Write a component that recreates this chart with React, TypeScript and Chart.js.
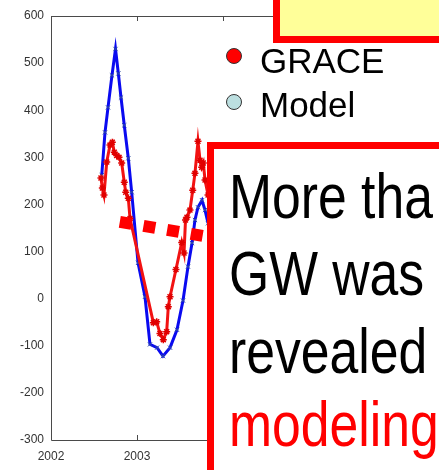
import React, { useEffect, useRef } from "react";
import { Chart, registerables } from "chart.js";

Chart.register(...registerables);

// ---- data ----
const graceYears = [
  2002.581, 2002.597, 2002.616, 2002.648, 2002.686, 2002.713, 2002.736, 2002.764,
  2002.791, 2002.822, 2002.852, 2002.869, 2002.899, 2002.919, 2003.19, 2003.229,
  2003.267, 2003.306, 2003.345, 2003.364, 2003.384, 2003.453, 2003.52, 2003.547,
  2003.564, 2003.581, 2003.616, 2003.648, 2003.674, 2003.709, 2003.733, 2003.752,
  2003.771, 2003.791, 2003.826,
];
const graceValues = [
  256, 235, 220, 290, 326, 332, 311, 304,
  300, 288, 247, 226, 213, 170, -51, -49,
  -74, -87, -70, -17, 4, 62, 119, 97,
  167, 173, 188, 230, 266, 334, 294, 279,
  288, 252, 220,
];
const modelYears = [
  2002.59, 2002.628, 2002.663, 2002.709, 2002.75, 2002.783, 2002.814, 2002.852,
  2002.899, 2002.938, 2003.012, 2003.093, 2003.151, 2003.233, 2003.302, 2003.384,
  2003.465, 2003.535, 2003.593, 2003.64, 2003.674, 2003.709, 2003.756, 2003.791,
  2003.826,
];
const modelValues = [
  262, 353, 406, 474, 530, 478, 427, 368,
  298, 226, 76, 4, -97, -104, -122, -104,
  -66, -4, 68, 118, 167, 194, 209, 188,
  160,
];
const yTickValues = [-300, -200, -100, 0, 100, 200, 300, 400, 500, 600];
const xTickYears = [2002, 2003, 2004, 2005, 2006];
const seriesNames = ["GRACE", "Model"];
const calloutLines = ["More tha", "GW was", "revealed", "modeling"];
// dashed pointer annotation, in data units [year, value]
const pointerFrom = [2002.8, 163];
const pointerTo = [2003.767, 133];

const framePlugin = {
  id: "frame",
  afterDatasetsDraw(chart: any) {
    const { ctx, chartArea, scales } = chart;
    const { left, right, top, bottom } = chartArea;
    ctx.save();
    ctx.strokeStyle = "#4a4a4a";
    ctx.lineWidth = 1;
    ctx.beginPath();
    ctx.moveTo(left + 0.5, top + 0.5);
    ctx.lineTo(right, top + 0.5);
    ctx.moveTo(left + 0.5, top);
    ctx.lineTo(left + 0.5, bottom + 0.5);
    ctx.lineTo(right, bottom + 0.5);
    // inner ticks on the year positions
    xTickYears.forEach((yr) => {
      const px = Math.round(scales.x.getPixelForValue(yr)) + 0.5;
      if (px <= left + 1) return;
      ctx.moveTo(px, top);
      ctx.lineTo(px, top + 5);
      ctx.moveTo(px, bottom);
      ctx.lineTo(px, bottom - 5);
    });
    ctx.stroke();

    // thick dashed red pointer
    ctx.strokeStyle = "#FF0000";
    ctx.lineWidth = 12;
    ctx.lineCap = "butt";
    ctx.setLineDash([12, 12]);
    ctx.beginPath();
    ctx.moveTo(scales.x.getPixelForValue(pointerFrom[0]), scales.y.getPixelForValue(pointerFrom[1]));
    ctx.lineTo(scales.x.getPixelForValue(pointerTo[0]), scales.y.getPixelForValue(pointerTo[1]));
    ctx.stroke();
    ctx.restore();
  },
};

export default function App() {
  const canvasRef = useRef<HTMLCanvasElement | null>(null);

  useEffect(() => {
    if (!canvasRef.current) return;
    const chart = new Chart(canvasRef.current, {
      type: "line",
      data: {
        datasets: [
          {
            label: seriesNames[0],
            data: graceYears.map((x, i) => ({ x, y: graceValues[i] })),
            borderColor: "#F21212",
            borderWidth: 3,
            pointStyle: "star",
            pointRadius: 3.5,
            pointBorderColor: "#E00000",
            pointBackgroundColor: "#E00000",
            pointBorderWidth: 1.5,
            tension: 0,
          },
          {
            label: seriesNames[1],
            data: modelYears.map((x, i) => ({ x, y: modelValues[i] })),
            borderColor: "#0A0AF0",
            borderWidth: 3,
            pointStyle: "crossRot",
            pointRadius: 3,
            pointBorderColor: "#3050A0",
            pointBorderWidth: 1,
            tension: 0,
          },
        ],
      },
      options: {
        animation: false,
        responsive: false,
        maintainAspectRatio: false,
        devicePixelRatio: 1,
        layout: { padding: { top: 16, right: 44, left: 0, bottom: 0 } },
        plugins: { legend: { display: false }, tooltip: { enabled: false } },
        scales: {
          x: {
            type: "linear",
            min: 2002,
            max: 2006,
            afterBuildTicks: (scale: any) => {
              scale.ticks = xTickYears.map((v) => ({ value: v }));
            },
            afterFit: (scale: any) => {
              scale.height = 30;
            },
            grid: { display: false, drawTicks: false },
            border: { display: false },
            ticks: {
              padding: 9,
              color: "#333",
              font: { family: "'Liberation Sans', Arial, sans-serif", size: 12 },
              callback: (v: any) => String(v),
              maxRotation: 0,
            },
          },
          y: {
            type: "linear",
            min: -300,
            max: 600,
            afterBuildTicks: (scale: any) => {
              scale.ticks = yTickValues.map((v) => ({ value: v }));
            },
            afterFit: (scale: any) => {
              scale.width = 51;
            },
            grid: { display: false, drawTicks: false },
            border: { display: false },
            ticks: {
              padding: 7,
              color: "#333",
              font: { family: "'Liberation Sans', Arial, sans-serif", size: 12 },
            },
          },
        },
      },
      plugins: [framePlugin],
    });
    return () => chart.destroy();
  }, []);

  const lineTops = [16, 92.7, 171, 244.4];

  return (
    <div
      style={{
        position: "fixed",
        left: 0,
        top: 0,
        width: 439,
        height: 470,
        overflow: "hidden",
        background: "#fff",
      }}
    >
      <canvas
        ref={canvasRef}
        width={439}
        height={470}
        style={{ position: "absolute", left: 0, top: 0, width: 439, height: 470 }}
      />
      {/* legend */}
      {seriesNames.map((name, i) => (
        <React.Fragment key={name}>
          <div
            style={{
              position: "absolute",
              left: 225.5,
              top: i === 0 ? 47.5 : 93.7,
              width: 14,
              height: 14,
              borderRadius: "50%",
              border: "1px solid #333",
              background: i === 0 ? "#FF0000" : "#BCDFE0",
            }}
          />
          <div
            style={{
              position: "absolute",
              left: 260,
              top: i === 0 ? 42.5 : 87,
              fontFamily: "'Liberation Sans', Arial, sans-serif",
              fontSize: 35,
              lineHeight: "35px",
              color: "#000",
              whiteSpace: "nowrap",
            }}
          >
            {name}
          </div>
        </React.Fragment>
      ))}
      {/* yellow box at top */}
      <div
        style={{
          position: "absolute",
          left: 273,
          top: -20,
          width: 300,
          height: 63,
          boxSizing: "border-box",
          border: "7px solid #FF0000",
          background: "#FFFF99",
        }}
      />
      {/* red callout box */}
      <div
        style={{
          position: "absolute",
          left: 207,
          top: 142,
          width: 300,
          height: 400,
          boxSizing: "border-box",
          border: "7px solid #FF0000",
          background: "#fff",
          overflow: "hidden",
        }}
      >
        {calloutLines.map((t, i) => (
          <div
            key={t}
            style={{
              position: "absolute",
              left: 14.5,
              top: lineTops[i],
              fontFamily: "'Liberation Sans', Arial, sans-serif",
              fontSize: 63,
              lineHeight: "63px",
              color: i === 3 ? "#FF0000" : "#000",
              whiteSpace: "nowrap",
              transform: "scaleX(0.82)",
              transformOrigin: "left top",
            }}
          >
            {t}
          </div>
        ))}
      </div>
    </div>
  );
}
